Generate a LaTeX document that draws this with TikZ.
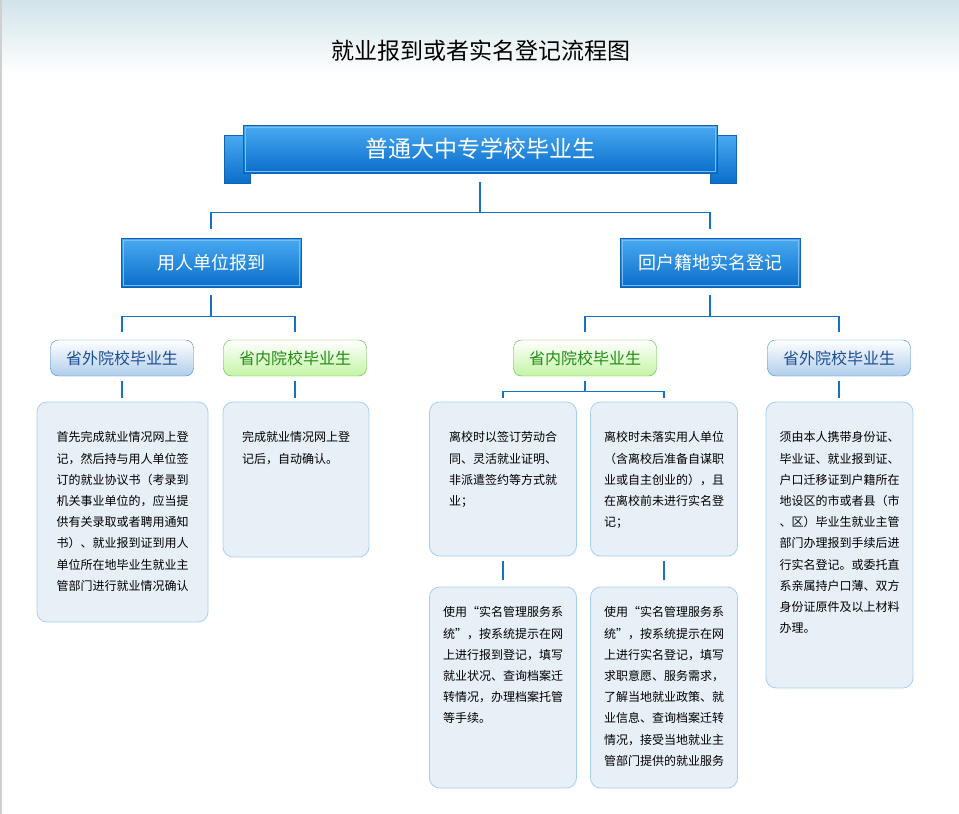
\documentclass[tikz,border=0pt]{standalone}
\usepackage{fontspec}
\newfontfamily\cjk{Noto Sans CJK SC}
\definecolor{bgtop}{RGB}{210,228,233}
\definecolor{sidegray}{RGB}{208,208,208}
\definecolor{linkblue}{RGB}{22,114,196}
\definecolor{bigtop}{RGB}{74,170,242}
\definecolor{bigbot}{RGB}{10,110,202}
\definecolor{bigedge}{RGB}{18,98,178}
\definecolor{bigline}{RGB}{120,190,245}
\definecolor{pbedge}{RGB}{64,140,210}
\definecolor{pbbot}{RGB}{176,205,235}
\definecolor{pbtext}{RGB}{28,78,150}
\definecolor{pgedge}{RGB}{84,186,52}
\definecolor{pgbot}{RGB}{196,244,164}
\definecolor{pgtext}{RGB}{34,140,22}
\definecolor{infoedge}{RGB}{168,208,236}
\definecolor{infofill}{RGB}{231,239,247}

\begin{document}
\begin{tikzpicture}[x=1pt,y=1pt,
    link/.style={draw=linkblue,line width=1.2pt},
    tab/.style={draw=bigedge,top color=bigtop,bottom color=bigbot},
    bigbox/.style={draw=bigedge,top color=bigtop,bottom color=bigbot,text=white,inner sep=0pt,minimum width=180,minimum height=49,font=\cjk\fontsize{18}{18}\selectfont},
    pillblue/.style={rounded corners=8pt,draw=pbedge,top color=white,bottom color=pbbot,text=pbtext,minimum width=143,minimum height=36,inner sep=0pt,font=\cjk\fontsize{16}{16}\selectfont},
    pillgreen/.style={pillblue,draw=pgedge,bottom color=pgbot,text=pgtext},
    infobox/.style={rounded corners=10pt,draw=infoedge,fill=infofill,line width=0.8pt,minimum width=147},
    infotext/.style={anchor=north,align=left,inner sep=0pt,text=black,font=\cjk\fontsize{12}{21.2}\selectfont}]
    \useasboundingbox (0,0) rectangle (959,-814);
    \fill[top color=bgtop,bottom color=white] (0,0) rectangle (959,-75);
    \draw[sidegray,line width=1.5pt] (0.75,0) -- (0.75,-814);
    \node (title) [font=\cjk\fontsize{23}{23}\selectfont] at (481,-51) {就业报到或者实名登记流程图};
    \draw[tab] (224,-135) rectangle (250,-183);
    \draw[tab] (710,-135) rectangle (736,-183);
    \node (main) [bigbox,minimum width=474,minimum height=48,font=\cjk\fontsize{23}{23}\selectfont] at (480,-149) {普通大中专学校毕业生};
    \node (emp) [bigbox] at (211,-262.5) {用人单位报到};
    \node (reg) [bigbox] at (710,-262.5) {回户籍地实名登记};
    \foreach \n in {main,emp,reg}
        \draw[bigline,line width=0.6pt] ([shift={(2,-2)}]\n.north west) rectangle ([shift={(-2,2)}]\n.south east);
    \draw[link,shorten <=9,shorten >=9] (main.south) -- ++(0,-39) -| (emp.north);
    \draw[link,shorten >=9] (main.south) ++(0,-39) -| (reg.north);
    \node (po1) [pillblue] at (122,-358) {省外院校毕业生};
    \node (pi1) [pillgreen] at (295,-358) {省内院校毕业生};
    \node (pi2) [pillgreen] at (585,-358) {省内院校毕业生};
    \node (po2) [pillblue] at (839,-358) {省外院校毕业生};
    \draw[link,shorten <=8,shorten >=8] (emp.south) -- ++(0,-29) -| (po1.north);
    \draw[link,shorten >=8] (emp.south) ++(0,-29) -| (pi1.north);
    \draw[link,shorten <=8,shorten >=8] (reg.south) -- ++(0,-29) -| (pi2.north);
    \draw[link,shorten >=8] (reg.south) ++(0,-29) -| (po2.north);
    \node (b1) [infobox,minimum width=171,minimum height=220] at (122.5,-512) {};
    \node (b2) [infobox,minimum width=146,minimum height=155] at (296,-479.5) {};
    \node (b3) [infobox,minimum height=154] at (503,-479) {};
    \node (b4) [infobox,minimum height=154] at (664,-479) {};
    \node (b5) [infobox,minimum height=201] at (503,-687.5) {};
    \node (b6) [infobox,minimum height=201] at (664,-687.5) {};
    \node (b7) [infobox,minimum height=286] at (839.5,-545) {};
    \draw[link,shorten <=5,shorten >=4] (po1.south) -- (po1.south |- b1.north);
    \draw[link,shorten <=5,shorten >=4] (pi1.south) -- (pi1.south |- b2.north);
    \draw[link,shorten <=5,shorten >=4] (po2.south) -- (po2.south |- b7.north);
    \draw[link,shorten <=5,shorten >=4] (pi2.south) -- ++(0,-15) -| (b3.north);
    \draw[link,shorten >=4] (pi2.south) ++(0,-15) -| (b4.north);
    \draw[link,shorten <=5,shorten >=7] (b3.south) -- (b5.north);
    \draw[link,shorten <=5,shorten >=7] (b4.south) -- (b6.north);
    \node (b1t) [infotext] at ([yshift=-30]b1.north) {首先完成就业情况网上登\\记，然后持与用人单位签\\订的就业协议书（考录到\\机关事业单位的，应当提\\供有关录取或者聘用通知\\书）、就业报到证到用人\\单位所在地毕业生就业主\\管部门进行就业情况确认};
    \node (b2t) [infotext] at ([yshift=-30]b2.north) {完成就业情况网上登\\记后，自动确认。};
    \node (b3t) [infotext] at ([yshift=-30]b3.north) {离校时以签订劳动合\\同、灵活就业证明、\\非派遣签约等方式就\\业；};
    \node (b4t) [infotext] at ([yshift=-30]b4.north) {离校时未落实用人单位\\（含离校后准备自谋职\\业或自主创业的），且\\在离校前未进行实名登\\记；};
    \node (b5t) [infotext] at ([yshift=-20]b5.north) {使用“实名管理服务系\\统”，按系统提示在网\\上进行报到登记，填写\\就业状况、查询档案迁\\转情况，办理档案托管\\等手续。};
    \node (b6t) [infotext] at ([yshift=-20]b6.north) {使用“实名管理服务系\\统”，按系统提示在网\\上进行实名登记，填写\\求职意愿、服务需求，\\了解当地就业政策、就\\业信息、查询档案迁转\\情况，接受当地就业主\\管部门提供的就业服务};
    \node (b7t) [infotext] at ([yshift=-30]b7.north) {须由本人携带身份证、\\毕业证、就业报到证、\\户口迁移证到户籍所在\\地设区的市或者县（市\\、区）毕业生就业主管\\部门办理报到手续后进\\行实名登记。或委托直\\系亲属持户口薄、双方\\身份证原件及以上材料\\办理。};
\end{tikzpicture}
\end{document}
